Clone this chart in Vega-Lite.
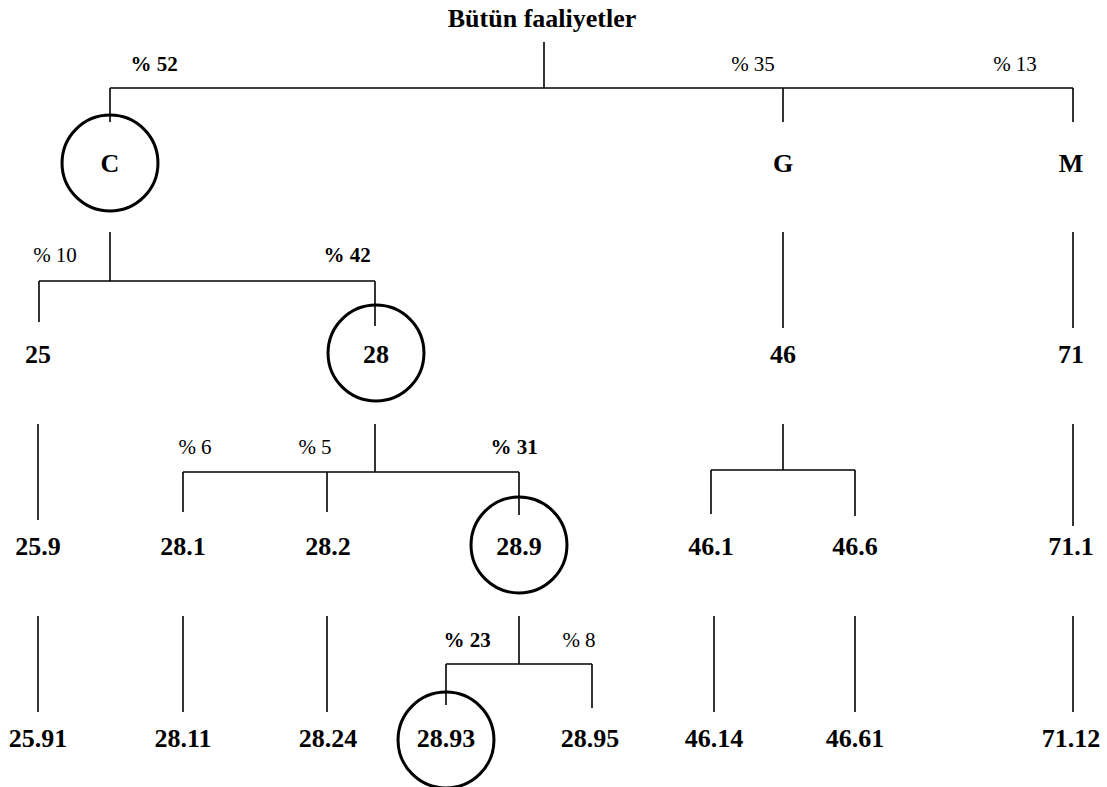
{
  "$schema": "https://vega.github.io/schema/vega-lite/v6.json",
  "autosize": {"type": "none"},
  "width": 1107,
  "height": 787,
  "padding": 0,
  "background": "white",
  "config": {"view": {"stroke": null}},
  "datasets": {
    "links": [
      {"x": 544, "y": 42, "x2": 544, "y2": 88},
      {"x": 110, "y": 88, "x2": 1073, "y2": 88},
      {"x": 110, "y": 88, "x2": 110, "y2": 122},
      {"x": 783, "y": 88, "x2": 783, "y2": 122},
      {"x": 1073, "y": 88, "x2": 1073, "y2": 122},
      {"x": 110, "y": 232, "x2": 110, "y2": 281},
      {"x": 39, "y": 281, "x2": 375, "y2": 281},
      {"x": 39, "y": 281, "x2": 39, "y2": 322},
      {"x": 375, "y": 281, "x2": 375, "y2": 326},
      {"x": 783, "y": 232, "x2": 783, "y2": 328},
      {"x": 1073, "y": 232, "x2": 1073, "y2": 328},
      {"x": 38, "y": 424, "x2": 38, "y2": 520},
      {"x": 375, "y": 424, "x2": 375, "y2": 472},
      {"x": 183, "y": 472, "x2": 519, "y2": 472},
      {"x": 183, "y": 472, "x2": 183, "y2": 512},
      {"x": 327, "y": 472, "x2": 327, "y2": 512},
      {"x": 519, "y": 472, "x2": 519, "y2": 515},
      {"x": 783, "y": 424, "x2": 783, "y2": 470},
      {"x": 711, "y": 470, "x2": 855, "y2": 470},
      {"x": 711, "y": 470, "x2": 711, "y2": 514},
      {"x": 855, "y": 470, "x2": 855, "y2": 516},
      {"x": 1073, "y": 424, "x2": 1073, "y2": 526},
      {"x": 38, "y": 616, "x2": 38, "y2": 712},
      {"x": 183, "y": 616, "x2": 183, "y2": 712},
      {"x": 327, "y": 616, "x2": 327, "y2": 712},
      {"x": 519, "y": 616, "x2": 519, "y2": 664},
      {"x": 446, "y": 664, "x2": 592, "y2": 664},
      {"x": 446, "y": 664, "x2": 446, "y2": 705},
      {"x": 592, "y": 664, "x2": 592, "y2": 708},
      {"x": 714, "y": 616, "x2": 714, "y2": 712},
      {"x": 855, "y": 616, "x2": 855, "y2": 712},
      {"x": 1073, "y": 616, "x2": 1073, "y2": 712}
    ],
    "nodes": [
      {"label": "C", "x": 110, "y": 172, "cy": 163, "selected": true},
      {"label": "G", "x": 783, "y": 172, "cy": 163, "selected": false},
      {"label": "M", "x": 1071, "y": 172, "cy": 163, "selected": false},
      {"label": "25", "x": 38, "y": 363, "cy": 354, "selected": false},
      {"label": "28", "x": 376, "y": 363, "cy": 353, "selected": true},
      {"label": "46", "x": 783, "y": 363, "cy": 354, "selected": false},
      {"label": "71", "x": 1071, "y": 363, "cy": 354, "selected": false},
      {"label": "25.9", "x": 38, "y": 555, "cy": 546, "selected": false},
      {"label": "28.1", "x": 183, "y": 555, "cy": 546, "selected": false},
      {"label": "28.2", "x": 328, "y": 555, "cy": 546, "selected": false},
      {"label": "28.9", "x": 519, "y": 555, "cy": 545, "selected": true},
      {"label": "46.1", "x": 711, "y": 555, "cy": 546, "selected": false},
      {"label": "46.6", "x": 855, "y": 555, "cy": 546, "selected": false},
      {"label": "71.1", "x": 1071, "y": 555, "cy": 546, "selected": false},
      {"label": "25.91", "x": 38, "y": 747, "cy": 739, "selected": false},
      {"label": "28.11", "x": 183, "y": 747, "cy": 739, "selected": false},
      {"label": "28.24", "x": 328, "y": 747, "cy": 739, "selected": false},
      {"label": "28.93", "x": 446, "y": 747, "cy": 740, "selected": true},
      {"label": "28.95", "x": 590, "y": 747, "cy": 739, "selected": false},
      {"label": "46.14", "x": 714, "y": 747, "cy": 739, "selected": false},
      {"label": "46.61", "x": 855, "y": 747, "cy": 739, "selected": false},
      {"label": "71.12", "x": 1071, "y": 747, "cy": 739, "selected": false}
    ],
    "shares": [
      {"text": "% 52", "x": 154, "y": 70.5, "selected": true},
      {"text": "% 35", "x": 753, "y": 70.5, "selected": false},
      {"text": "% 13", "x": 1015, "y": 70.5, "selected": false},
      {"text": "% 10", "x": 55, "y": 262, "selected": false},
      {"text": "% 42", "x": 347, "y": 262, "selected": true},
      {"text": "% 6", "x": 195, "y": 454, "selected": false},
      {"text": "% 5", "x": 315, "y": 454, "selected": false},
      {"text": "% 31", "x": 514, "y": 454, "selected": true},
      {"text": "% 23", "x": 467, "y": 647, "selected": true},
      {"text": "% 8", "x": 579, "y": 647, "selected": false}
    ],
    "title": [
      {"text": "Bütün faaliyetler", "x": 542, "y": 26.5}
    ]
  },
  "encoding": {
    "x": {"field": "x", "type": "quantitative", "scale": {"domain": [0, 1107], "nice": false, "zero": false}, "axis": null},
    "y": {"field": "y", "type": "quantitative", "scale": {"domain": [0, 787], "nice": false, "zero": false, "reverse": true}, "axis": null}
  },
  "layer": [
    {
      "data": {"name": "links"},
      "mark": {"type": "rule", "color": "black", "strokeWidth": 1.6},
      "encoding": {
        "x2": {"field": "x2"},
        "y2": {"field": "y2"}
      }
    },
    {
      "data": {"name": "nodes"},
      "transform": [{"filter": "datum.selected"}],
      "mark": {"type": "point", "shape": "circle", "size": 9200, "filled": false, "stroke": "black", "strokeWidth": 3, "opacity": 1},
      "encoding": {"y": {"field": "cy", "type": "quantitative"}}
    },
    {
      "data": {"name": "nodes"},
      "mark": {"type": "text", "font": "Liberation Serif", "fontWeight": "bold", "fontSize": 26, "color": "black", "baseline": "alphabetic", "align": "center"},
      "encoding": {"text": {"field": "label"}}
    },
    {
      "data": {"name": "shares"},
      "transform": [{"filter": "datum.selected"}],
      "mark": {"type": "text", "font": "Liberation Serif", "fontWeight": "bold", "fontSize": 21, "color": "black", "baseline": "alphabetic", "align": "center"},
      "encoding": {"text": {"field": "text"}}
    },
    {
      "data": {"name": "shares"},
      "transform": [{"filter": "!datum.selected"}],
      "mark": {"type": "text", "font": "Liberation Serif", "fontWeight": "normal", "fontSize": 21, "color": "black", "baseline": "alphabetic", "align": "center"},
      "encoding": {"text": {"field": "text"}}
    },
    {
      "data": {"name": "title"},
      "mark": {"type": "text", "font": "Liberation Serif", "fontWeight": "bold", "fontSize": 26, "color": "black", "baseline": "alphabetic", "align": "center"},
      "encoding": {"text": {"field": "text"}}
    }
  ]
}
